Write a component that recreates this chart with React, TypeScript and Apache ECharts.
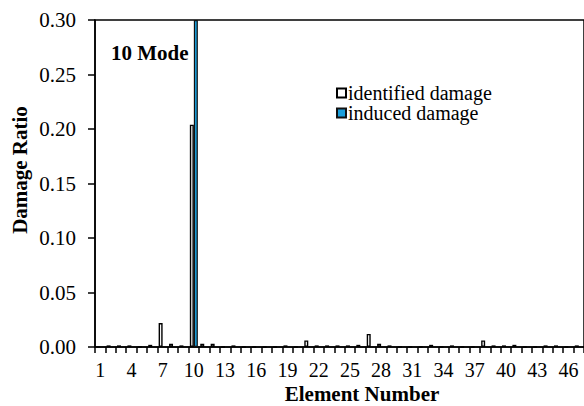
import React, { useEffect, useRef } from "react";
import * as echarts from "echarts";

// Element numbers 1..47
const elements: string[] = Array.from({ length: 47 }, (_, i) => String(i + 1));

// Identified damage ratio per element (10th mode)
const identified: number[] = [
  0, 0.0015, 0.0015, 0.0015, 0, 0.002, 0.022, 0.003, 0.0015, 0.204,
  0.003, 0.003, 0, 0.0015, 0, 0, 0, 0, 0.0015, 0,
  0.006, 0.0015, 0.0015, 0.0015, 0.0015, 0.002, 0.012, 0.003, 0.0015, 0,
  0, 0, 0.002, 0, 0.0015, 0, 0, 0.006, 0.0015, 0.0015,
  0.002, 0, 0, 0.0015, 0.0015, 0, 0.0015,
];

// Induced damage ratio per element
const induced: number[] = elements.map((e) => (e === "10" ? 0.3 : 0));

const yTicks = { min: 0, max: 0.3, interval: 0.05 };

const SERIF = "Liberation Serif";
const BLUE = "#1c9fdb";

export default function App() {
  const ref = useRef<HTMLDivElement>(null);

  useEffect(() => {
    if (!ref.current) return;
    const chart = echarts.init(ref.current, undefined, { renderer: "svg" });
    chart.setOption({
      animation: false,
      backgroundColor: "#ffffff",
      textStyle: { fontFamily: SERIF, color: "#000" },
      grid: {
        left: 95,
        top: 20,
        width: 490,
        bottom: 59,
        show: true,
        borderColor: "#000",
        borderWidth: 1.5,
        backgroundColor: "transparent",
        containLabel: false,
      },
      legend: {
        orient: "vertical",
        left: 331,
        top: 78,
        itemWidth: 9,
        itemHeight: 9,
        itemGap: 0,
        icon: "rect",
        textStyle: {
          fontFamily: SERIF,
          fontSize: 20,
          color: "#000",
          lineHeight: 20,
          padding: [0, 0, 0, -3],
        },
        data: ["identified damage", "induced damage"],
      },
      xAxis: {
        type: "category",
        data: elements,
        axisLine: { lineStyle: { color: "#000", width: 1.5 } },
        axisTick: {
          show: true,
          interval: 0,
          length: 6,
          inside: false,
          lineStyle: { color: "#000", width: 1.5 },
        },
        axisLabel: {
          interval: 2,
          fontFamily: SERIF,
          fontSize: 20,
          color: "#000",
          margin: 13,
        },
        splitLine: { show: false },
      },
      yAxis: {
        type: "value",
        min: yTicks.min,
        max: yTicks.max,
        interval: yTicks.interval,
        axisLine: { show: true, lineStyle: { color: "#000", width: 1.5 } },
        axisTick: {
          show: true,
          length: 7,
          inside: false,
          lineStyle: { color: "#000", width: 1.5 },
        },
        axisLabel: {
          fontFamily: SERIF,
          fontSize: 21,
          color: "#000",
          margin: 19,
          formatter: (v: number) => v.toFixed(2),
        },
        splitLine: { show: false },
      },
      series: [
        {
          name: "identified damage",
          type: "bar",
          data: identified,
          barWidth: 4,
          barGap: "0%",
          clip: true,
          itemStyle: { color: "#ffffff", borderColor: "#000", borderWidth: 1.4 },
        },
        {
          name: "induced damage",
          type: "bar",
          data: induced,
          barWidth: 4,
          barGap: "0%",
          clip: true,
          itemStyle: { color: BLUE, borderColor: "#111", borderWidth: 1.2 },
        },
      ],
      graphic: [
        {
          type: "text",
          left: 111,
          top: 42,
          style: {
            text: "10 Mode",
            fontFamily: SERIF,
            fontWeight: "bold",
            fontSize: 21,
            fill: "#000",
          },
        },
        {
          type: "text",
          x: 362,
          y: 383,
          style: {
            text: "Element Number",
            fontFamily: SERIF,
            fontWeight: "bold",
            fontSize: 21,
            fill: "#000",
            textAlign: "center",
          },
        },
        {
          type: "text",
          x: 9,
          y: 170,
          rotation: Math.PI / 2,
          style: {
            text: "Damage Ratio",
            fontFamily: SERIF,
            fontWeight: "bold",
            fontSize: 21,
            fill: "#000",
            textAlign: "center",
          },
        },
      ],
    });
    return () => chart.dispose();
  }, []);

  return (
    <div
      ref={ref}
      style={{ position: "fixed", left: 0, top: 0, width: 584, height: 406 }}
    />
  );
}
